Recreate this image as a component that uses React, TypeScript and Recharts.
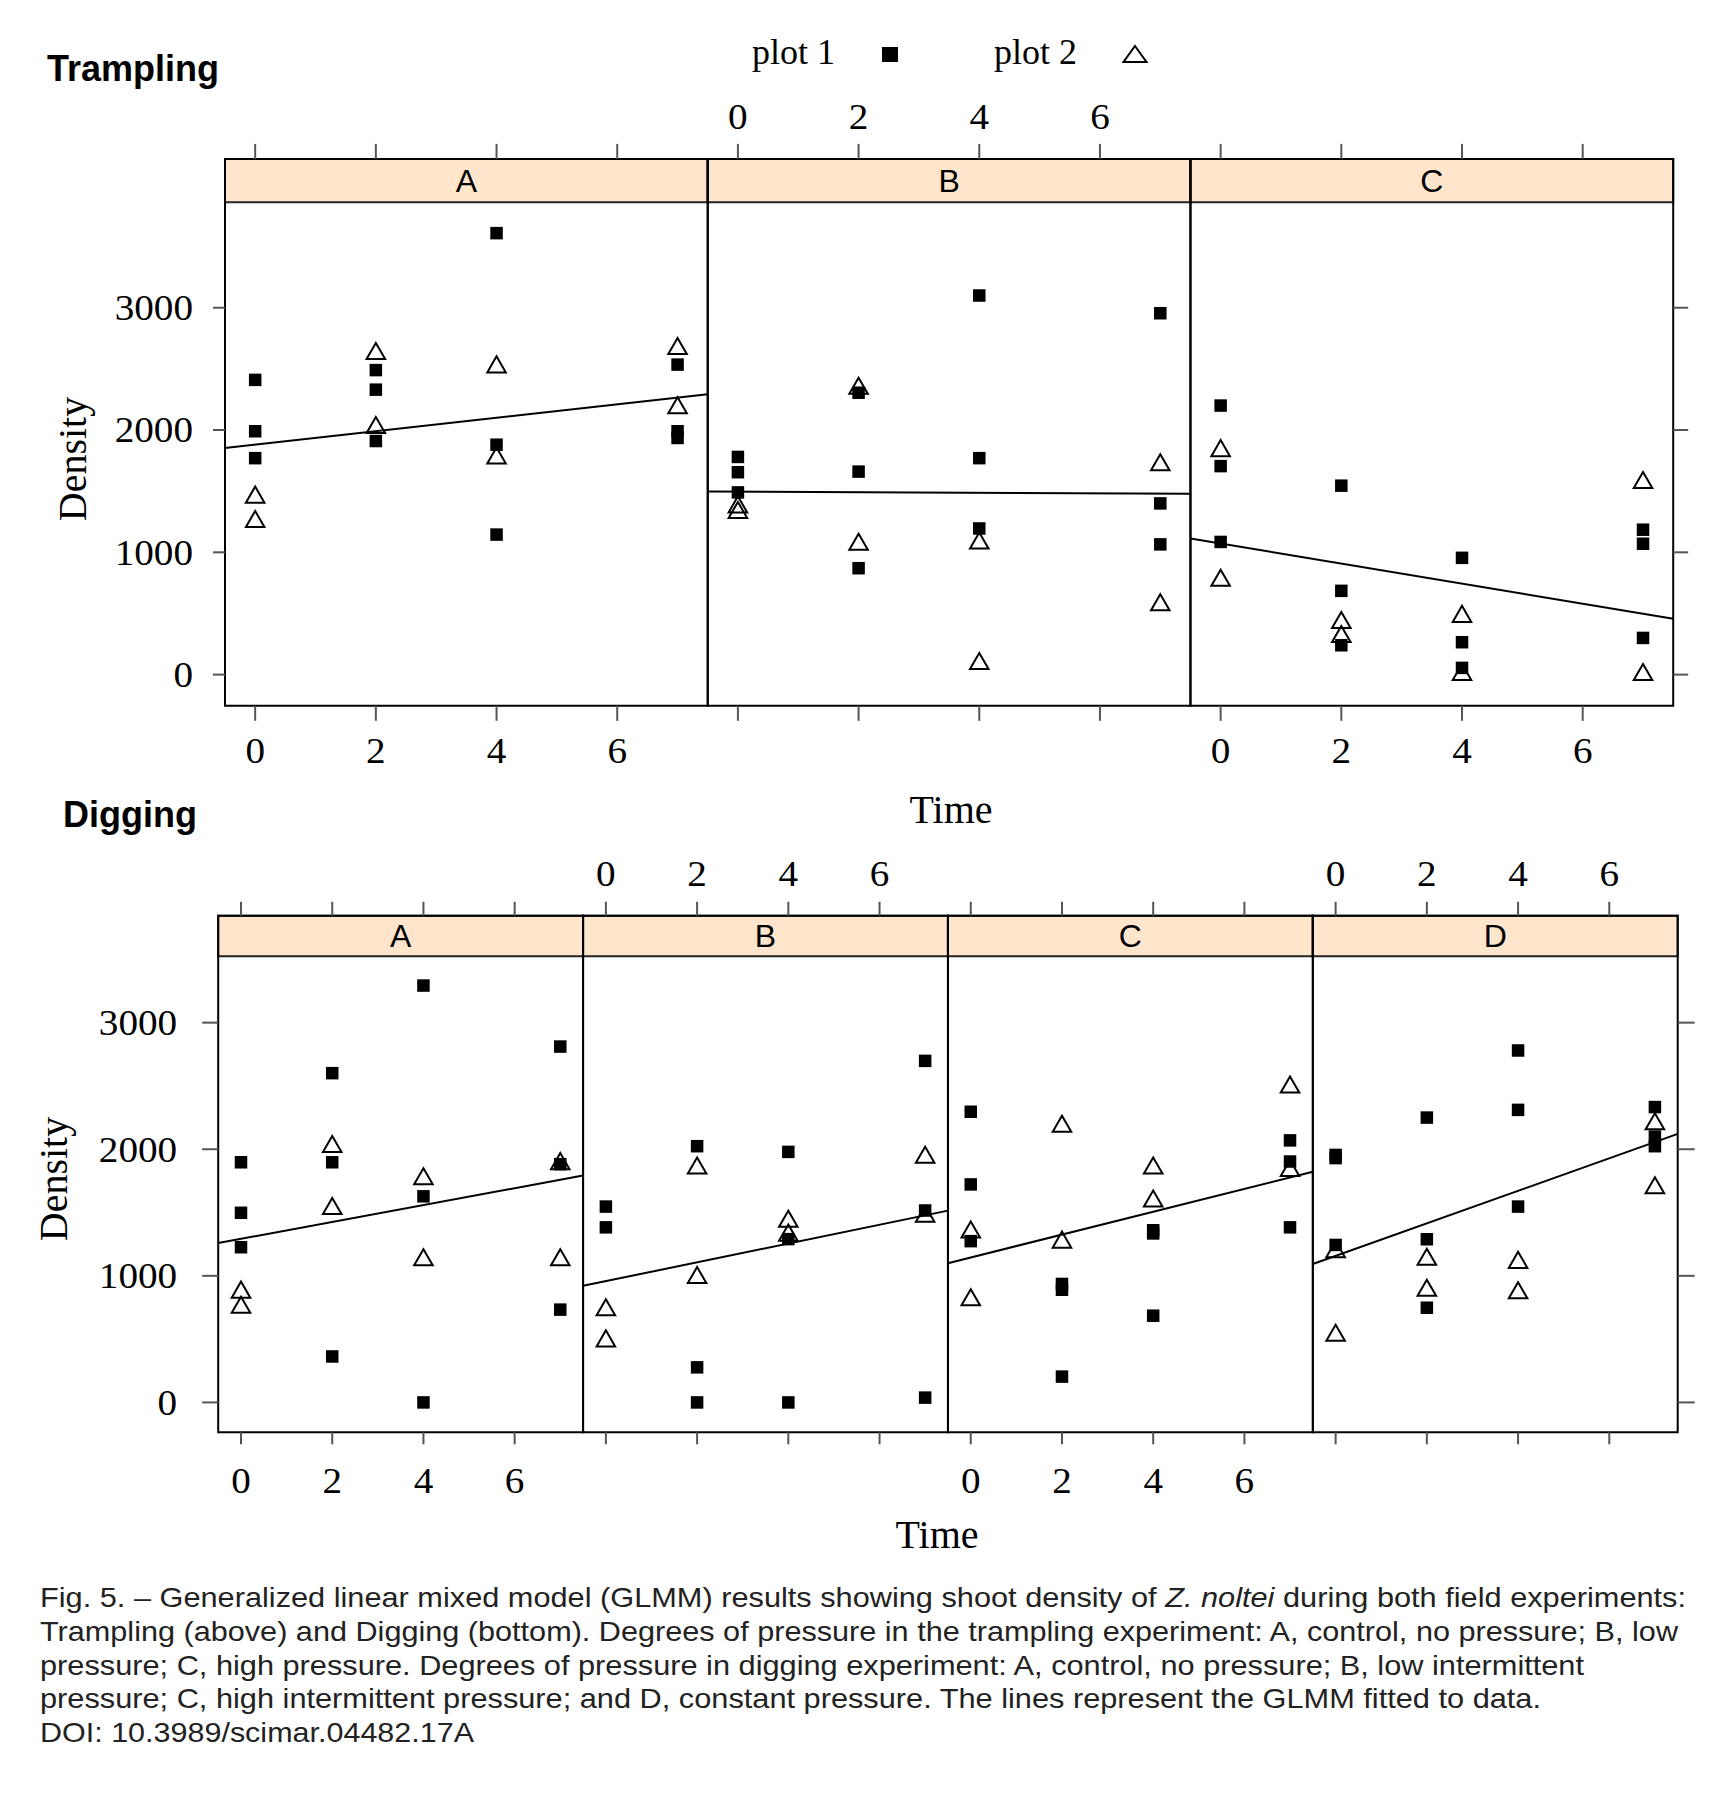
import React from 'react';
import { ScatterChart, Scatter, XAxis, YAxis, ReferenceArea, ReferenceLine } from 'recharts';

// ---------- data ----------
const times = [0, 2, 4, 7];
const timeTicks = [0, 2, 4, 6];
const densityTicks = [0, 1000, 2000, 3000];

// Trampling
const trampPanels = ['A', 'B', 'C'];
const trampPlot1A = [[2410, 1990, 1770], [2490, 2330, 1910], [3610, 1880, 1145], [2535, 1990, 1935]];
const trampPlot1B = [[1780, 1655, 1490], [2305, 1660, 870], [3100, 1770, 1195], [2955, 1400, 1065]];
const trampPlot1C = [[2200, 1705, 1085], [1545, 685, 240], [955, 265, 55], [1185, 1070, 300]];
const trampPlot2A = [[1450, 1250], [2625, 2020], [2515, 1770], [2665, 2180]];
const trampPlot2B = [[1370, 1325], [2340, 1065], [1075, 90], [1715, 570]];
const trampPlot2C = [[1830, 770], [425, 310], [475, 0], [1570, 0]];
const trampFitA = [1854, 2292];
const trampFitB = [1497, 1478];
const trampFitC = [1113, 456];

// Digging
const digPanels = ['A', 'B', 'C', 'D'];
const digPlot1A = [[1897, 1498, 1226], [2601, 1897, 363], [3293, 1628, 0], [2811, 1882, 733]];
const digPlot1B = [[1547, 1383], [2024, 277, 0], [1979, 1290, 0], [2698, 1516, 38]];
const digPlot1C = [[2296, 1722, 1274], [936, 890, 204], [1360, 1335, 685], [2070, 1903, 1383]];
const digPlot1D = [[1955, 1930, 1244], [2250, 1289, 748], [2780, 2311, 1547], [2333, 2100, 2024]];
const digPlot2A = [[870, 750], [2020, 1530], [1765, 1125], [1885, 1125]];
const digPlot2B = [[730, 485], [1850, 985], [1430, 1320], [1935, 1470]];
const digPlot2C = [[1345, 810], [2180, 1265], [1850, 1590], [2490, 1830]];
const digPlot2D = [[1190, 530], [1130, 885], [1105, 865], [2200, 1695]];
const digFitA = [1259, 1792];
const digFitB = [921, 1515];
const digFitC = [1100, 1822];
const digFitD = [1093, 2121];

// ---------- helpers ----------
const SPAN = 8; // each panel covers time -0.5 .. 7.5
type Pt = { x: number; y: number };

function buildPoints(panels: number[][][]): Pt[] {
  const out: Pt[] = [];
  panels.forEach((panel, p) =>
    panel.forEach((vals, t) => vals.forEach((v) => out.push({ x: p * SPAN + times[t], y: v })))
  );
  return out;
}

const SERIF = "'Liberation Serif', 'Times New Roman', serif";
const SANS = "'Liberation Sans', Arial, Helvetica, sans-serif";
const TICK_FS = 35;
const TICK_SX = 1.12;

const SquareShape = (props: any) => {
  const { cx, cy } = props;
  if (cx == null || cy == null) return <g />;
  return <rect x={cx - 6.25} y={cy - 6.25} width={12.5} height={12.5} fill="#000" />;
};

const TriangleShape = (props: any) => {
  const { cx, cy } = props;
  if (cx == null || cy == null) return <g />;
  const r = 10.7;
  const hw = (r * Math.sqrt(3)) / 2;
  const pts = `${cx},${cy - r} ${cx + hw},${cy + r / 2} ${cx - hw},${cy + r / 2}`;
  return <polygon points={pts} fill="none" stroke="#000" strokeWidth={2} strokeLinejoin="miter" />;
};

type Orient = 'top' | 'bottom' | 'left' | 'right';
const makeTick = (orient: Orient, label: (v: number) => string) => (props: any) => {
  const { x, y, payload } = props;
  const txt = label(payload.value);
  if (!txt) return <g />;
  let anchor: 'middle' | 'end' | 'start' = 'middle';
  let dy = '0';
  if (orient === 'bottom') dy = '0.71em';
  if (orient === 'left') {
    anchor = 'end';
    dy = '0.355em';
  }
  return (
    <g transform={`translate(${x} ${y}) scale(${TICK_SX} 1)`}>
      <text x={0} y={0} dy={dy} textAnchor={anchor} fontSize={TICK_FS} fontFamily={SERIF} fill="#000">
        {txt}
      </text>
    </g>
  );
};

interface FacetProps {
  top: number;
  height: number;
  leftW: number;
  rightW: number;
  topH: number;
  bottomH: number;
  letters: string[];
  plot1: number[][][];
  plot2: number[][][];
  fits: number[][];
  yMin: number;
  dataTop: number;
  yMax: number;
  topLabelPanels: number[];
  bottomLabelPanels: number[];
  xTickTop: number;
  xTickBottom: number;
  xMarginTop: number;
  xMarginBottom: number;
  yTickLeft: number;
  yMarginLeft: number;
  yTickRight: number;
}

const Facet: React.FC<FacetProps> = (f) => {
  const n = f.letters.length;
  const xDomain: [number, number] = [-0.5, n * SPAN - 0.5];
  const yDomain: [number, number] = [f.yMin, f.yMax];
  const ticks: number[] = [];
  for (let p = 0; p < n; p++) timeTicks.forEach((t) => ticks.push(p * SPAN + t));
  const fmt = (panels: number[]) => (v: number) => {
    const p = Math.floor((v + 0.5) / SPAN);
    return panels.includes(p) ? String(v - p * SPAN) : '';
  };
  const p1 = buildPoints(f.plot1);
  const p2 = buildPoints(f.plot2);
  const tickLine = { stroke: '#555', strokeWidth: 2 };
  return (
    <div style={{ position: 'absolute', left: 0, top: f.top }}>
      <ScatterChart width={1732} height={f.height} margin={{ top: 0, right: 0, bottom: 0, left: 0 }}>
        <XAxis
          xAxisId="b"
          type="number"
          dataKey="x"
          domain={xDomain}
          ticks={ticks}
          interval={0}
          allowDataOverflow
          orientation="bottom"
          height={f.bottomH}
          axisLine={false}
          tickLine={tickLine}
          tickSize={f.xTickBottom}
          tickMargin={f.xMarginBottom}
          tick={makeTick('bottom', fmt(f.bottomLabelPanels))}
        />
        <XAxis
          xAxisId="t"
          type="number"
          dataKey="x"
          domain={xDomain}
          ticks={ticks}
          interval={0}
          allowDataOverflow
          orientation="top"
          height={f.topH}
          axisLine={false}
          tickLine={tickLine}
          tickSize={f.xTickTop}
          tickMargin={f.xMarginTop}
          tick={makeTick('top', fmt(f.topLabelPanels))}
        />
        <YAxis
          yAxisId="l"
          type="number"
          dataKey="y"
          domain={yDomain}
          ticks={densityTicks}
          interval={0}
          allowDataOverflow
          orientation="left"
          width={f.leftW}
          axisLine={false}
          tickLine={tickLine}
          tickSize={f.yTickLeft}
          tickMargin={f.yMarginLeft}
          tick={makeTick('left', (v) => String(v))}
        />
        <YAxis
          yAxisId="r"
          type="number"
          dataKey="y"
          domain={yDomain}
          ticks={densityTicks}
          interval={0}
          allowDataOverflow
          orientation="right"
          width={f.rightW}
          axisLine={false}
          tickLine={tickLine}
          tickSize={f.yTickRight}
          tick={makeTick('right', () => '')}
        />
        {f.letters.map((L, p) => (
          <ReferenceArea
            key={'strip' + L}
            xAxisId="b"
            yAxisId="l"
            x1={p * SPAN - 0.5}
            x2={p * SPAN + 7.5}
            y1={f.dataTop}
            y2={f.yMax}
            fill="#FFE5CC"
            fillOpacity={1}
            stroke="#222"
            strokeWidth={2}
            ifOverflow="visible"
            label={{ value: L, position: 'center', fill: '#000', fontSize: 32, fontFamily: SANS }}
          />
        ))}
        {f.letters.map((L, p) => (
          <ReferenceArea
            key={'box' + L}
            xAxisId="b"
            yAxisId="l"
            x1={p * SPAN - 0.5}
            x2={p * SPAN + 7.5}
            y1={f.yMin}
            y2={f.yMax}
            fill="none"
            fillOpacity={0}
            stroke="#000"
            strokeWidth={2}
            ifOverflow="visible"
          />
        ))}
        {f.fits.map((fit, p) => (
          <ReferenceLine
            key={'fit' + p}
            xAxisId="b"
            yAxisId="l"
            segment={[
              { x: p * SPAN - 0.5, y: fit[0] },
              { x: p * SPAN + 7.5, y: fit[1] },
            ]}
            stroke="#000"
            strokeWidth={2}
            ifOverflow="visible"
          />
        ))}
        <Scatter name="plot 1" data={p1} xAxisId="b" yAxisId="l" shape={SquareShape} isAnimationActive={false} />
        <Scatter name="plot 2" data={p2} xAxisId="b" yAxisId="l" shape={TriangleShape} isAnimationActive={false} />
      </ScatterChart>
    </div>
  );
};

const captionRest = [
  'Trampling (above) and Digging (bottom). Degrees of pressure in the trampling experiment: A, control, no pressure; B, low',
  'pressure; C, high pressure. Degrees of pressure in digging experiment: A, control, no pressure; B, low intermittent',
  'pressure; C, high intermittent pressure; and D, constant pressure. The lines represent the GLMM fitted to data.',
  'DOI: 10.3989/scimar.04482.17A',
];
const captionRestWidths = [1638, 1544, 1501, 434];

export default function App() {
  return (
    <div style={{ position: 'absolute', left: 0, top: 0, width: 1732, height: 1812, background: '#fff', overflow: 'hidden' }}>
      <Facet
        top={0}
        height={800}
        leftW={225}
        rightW={58.8}
        topH={158.9}
        bottomH={94.2}
        letters={trampPanels}
        plot1={[trampPlot1A, trampPlot1B, trampPlot1C]}
        plot2={[trampPlot2A, trampPlot2B, trampPlot2C]}
        fits={[trampFitA, trampFitB, trampFitC]}
        yMin={-255}
        dataTop={3863}
        yMax={4217}
        topLabelPanels={[1]}
        bottomLabelPanels={[0, 2]}
        xTickTop={15}
        xTickBottom={15}
        xMarginTop={15}
        xMarginBottom={17}
        yTickLeft={12}
        yMarginLeft={20}
        yTickRight={15}
      />
      <Facet
        top={800}
        height={740}
        leftW={218.2}
        rightW={54.3}
        topH={115.8}
        bottomH={107.7}
        letters={digPanels}
        plot1={[digPlot1A, digPlot1B, digPlot1C, digPlot1D]}
        plot2={[digPlot2A, digPlot2B, digPlot2C, digPlot2D]}
        fits={[digFitA, digFitB, digFitC, digFitD]}
        yMin={-236}
        dataTop={3524}
        yMax={3844}
        topLabelPanels={[1, 3]}
        bottomLabelPanels={[0, 2]}
        xTickTop={14}
        xTickBottom={12}
        xMarginTop={16}
        xMarginBottom={24}
        yTickLeft={16}
        yMarginLeft={25}
        yTickRight={17}
      />
      <svg width={1732} height={1812} style={{ position: 'absolute', left: 0, top: 0, pointerEvents: 'none' }}>
        {/* titles */}
        <text x={47} y={81} fontFamily={SANS} fontWeight="bold" fontSize={36} fill="#000">Trampling</text>
        <text x={63} y={827} fontFamily={SANS} fontWeight="bold" fontSize={36} fill="#000">Digging</text>
        {/* legend */}
        <text x={752} y={64} fontFamily={SERIF} fontSize={36} fill="#000">plot 1</text>
        <rect x={882} y={47} width={16} height={15} fill="#000" />
        <text x={994} y={64} fontFamily={SERIF} fontSize={36} fill="#000">plot 2</text>
        <polygon points="1135,46 1146.5,62 1123.5,62" fill="none" stroke="#000" strokeWidth={2} />
        {/* axis titles */}
        <text x={951} y={823} textAnchor="middle" fontFamily={SERIF} fontSize={40} fill="#000">Time</text>
        <text x={937} y={1548} textAnchor="middle" fontFamily={SERIF} fontSize={40} fill="#000">Time</text>
        <text x={0} y={0} transform="translate(86,459) rotate(-90)" textAnchor="middle" fontFamily={SERIF} fontSize={40} fill="#000">
          Density
        </text>
        <text x={0} y={0} transform="translate(67,1179) rotate(-90)" textAnchor="middle" fontFamily={SERIF} fontSize={40} fill="#000">
          Density
        </text>
        {/* caption */}
        <text x={40} y={1607} fontFamily={SANS} fontSize={28} fill="#222" textLength={1646} lengthAdjust="spacingAndGlyphs">
          Fig. 5. – Generalized linear mixed model (GLMM) results showing shoot density of{' '}
          <tspan fontStyle="italic">Z. noltei</tspan> during both field experiments:
        </text>
        {captionRest.map((line, i) => (
          <text
            key={i}
            x={40}
            y={1641 + i * 33.5}
            fontFamily={SANS}
            fontSize={28}
            fill="#222"
            textLength={captionRestWidths[i]}
            lengthAdjust="spacingAndGlyphs"
          >
            {line}
          </text>
        ))}
      </svg>
    </div>
  );
}
